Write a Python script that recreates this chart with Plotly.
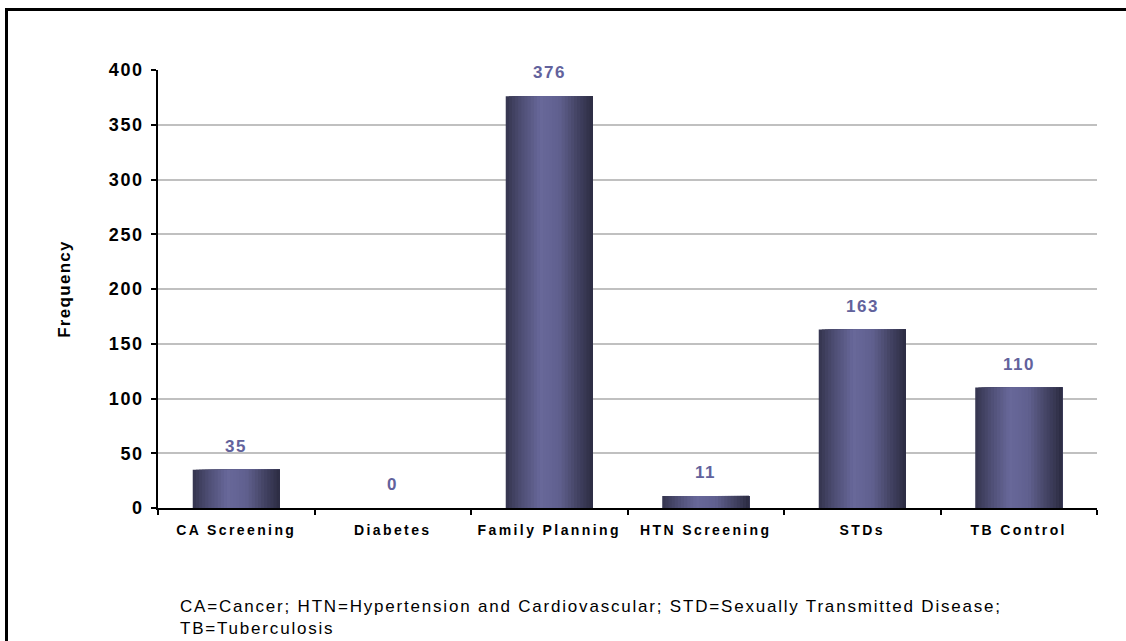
import plotly.graph_objects as go

categories = ["CA Screening", "Diabetes", "Family Planning", "HTN Screening", "STDs", "TB Control"]
frequency = [35, 0, 376, 11, 163, 110]
y_ticks = [0, 50, 100, 150, 200, 250, 300, 350, 400]
footnote_lines = ["CA=Cancer; HTN=Hypertension and Cardiovascular; STD=Sexually Transmitted Disease;",
                  "TB=Tuberculosis"]

# gradient stops for the cylinder-like shading (position, rgb)
stops = [(0.0, (52, 52, 78)), (0.18, (78, 78, 116)), (0.40, (104, 104, 154)),
         (0.62, (96, 96, 142)), (0.80, (70, 70, 104)), (1.0, (44, 44, 66))]


def shade(t):
    for (p0, c0), (p1, c1) in zip(stops[:-1], stops[1:]):
        if p0 <= t <= p1:
            f = (t - p0) / (p1 - p0) if p1 > p0 else 0
            return "rgb(%d,%d,%d)" % tuple(round(a + (b - a) * f) for a, b in zip(c0, c1))
    return "rgb(%d,%d,%d)" % stops[-1][1]


def spaced(text, ls):
    return '<span style="letter-spacing:%spx">%s</span>' % (ls, text)


fig = go.Figure()
bar_w = 0.556
n = 28
for i in range(n):
    off = -bar_w / 2 + i * bar_w / n
    fig.add_trace(go.Bar(
        x=categories, y=frequency,
        width=bar_w - i * bar_w / n, offset=off,
        marker=dict(color=shade((i + 0.5) / n), line=dict(width=0)),
        showlegend=False, hoverinfo="skip",
    ))

for c, v in zip(categories, frequency):
    fig.add_annotation(x=c, y=v, text="<b>%s</b>" % spaced(str(v), 1.5), showarrow=False,
                       yanchor="bottom", yshift=12,
                       font=dict(family="Arial, Liberation Sans", size=17, color="#62629c"))

fig.add_annotation(xref="paper", yref="paper", x=0.021, y=-0.198, xanchor="left", yanchor="top",
                   align="left", showarrow=False,
                   text="<br>".join(spaced(t, 1.8) for t in footnote_lines),
                   font=dict(family="Arial, Liberation Sans", size=17, color="#000000"))

# outer frame
fig.add_shape(type="rect", xref="paper", yref="paper",
              x0=(6.5 - 158) / 939, x1=(1140 - 158) / 939,
              y0=(508 - 9.5) / 438, y1=(508 - 660) / 438,
              line=dict(color="black", width=3), fillcolor="rgba(0,0,0,0)", layer="above")

fig.update_layout(
    width=1126, height=641,
    margin=dict(l=158, r=29, t=70, b=133),
    barmode="overlay",
    paper_bgcolor="white", plot_bgcolor="white",
    font=dict(family="Arial, Liberation Sans", color="black"),
    xaxis=dict(
        tickvals=categories, ticktext=["<b>%s</b>" % spaced(c, 2.4) for c in categories],
        tickfont=dict(size=14, family="Arial, Liberation Sans"),
        showline=True, linecolor="black", linewidth=1.5,
        ticks="outside", tickson="boundaries", ticklen=5, tickcolor="black", tickwidth=1.5,
        showgrid=False, ticklabelstandoff=8,
    ),
    yaxis=dict(
        range=[0, 400], tickvals=y_ticks, ticktext=["<b>%s</b>" % spaced(v, 1.6) for v in y_ticks],
        tickfont=dict(size=18),
        showline=True, linecolor="black", linewidth=1.5,
        ticks="outside", ticklen=5, tickcolor="black", tickwidth=1.5,
        showgrid=True, gridcolor="#c0c0c0", gridwidth=1.5,
        zeroline=False, ticklabelstandoff=4,
        title=dict(text="<b>%s</b>" % spaced("Frequency", 1.3), font=dict(size=17), standoff=34),
    ),
)

fig.write_html("out.html", config={"displayModeBar": False},
               post_script="document.body.style.margin='0px';")
